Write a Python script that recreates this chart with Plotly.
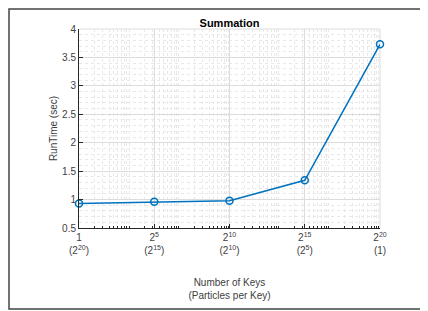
import plotly.graph_objects as go
import math

x_exp = [0, 5, 10, 15, 20]
runtime = [0.93, 0.96, 0.98, 1.34, 3.73]
tick_labels = ["1<br>(2<sup>20</sup>)", "2<sup>5</sup><br>(2<sup>15</sup>)",
               "2<sup>10</sup><br>(2<sup>10</sup>)", "2<sup>15</sup><br>(2<sup>5</sup>)",
               "2<sup>20</sup><br>(1)"]
y_ticks = [0.5, 1, 1.5, 2, 2.5, 3, 3.5, 4]
y_tick_labels = ["0.5", "1", "1.5", "2", "2.5", "3", "3.5", "4"]

xs = [2 ** e for e in x_exp]

L, T, W, H = 71, 21, 301, 199

fig = go.Figure()
fig.add_trace(go.Scatter(
    x=xs, y=runtime, mode="lines+markers",
    line=dict(color="#0072BD", width=1.5),
    marker=dict(symbol="circle-open", size=7, color="#0072BD", line=dict(width=1.5)),
    cliponaxis=False,
))

fnt = dict(family="Liberation Sans, Arial", size=10, color="#404040")
fig.update_layout(
    width=428, height=311,
    margin=dict(l=L, r=428 - L - W, t=T, b=311 - T - H),
    paper_bgcolor="white", plot_bgcolor="white",
    showlegend=False,
    font=fnt,
    title=dict(text="<b>Summation</b>", x=0.5, xanchor="center", xref="paper",
               y=1, yref="paper", yanchor="bottom", pad=dict(b=2),
               font=dict(family="Liberation Sans, Arial", size=11, color="black")),
)
fig.update_xaxes(
    type="log", range=[0, 20 * math.log10(2)], automargin=False,
    tickvals=xs, ticktext=tick_labels,
    showgrid=True, gridcolor="#dcdcdc", gridwidth=1,
    ticks="inside", ticklen=4, tickcolor="#262626",
    showline=True, linecolor="#262626", linewidth=1, mirror=False,
    zeroline=False,
    minor=dict(dtick="D1", showgrid=True, gridcolor="#e8e8e8", griddash="dot",
               ticks="inside", ticklen=2, tickcolor="#262626"),
    title=dict(text="Number of Keys<br>(Particles per Key)", standoff=23,
               font=dict(family="Liberation Sans, Arial", size=10, color="#404040")),
    tickfont=fnt,
)
fig.update_yaxes(
    range=[0.5, 4], tickvals=y_ticks, ticktext=y_tick_labels, automargin=False,
    showgrid=True, gridcolor="#dcdcdc", gridwidth=1,
    ticks="inside", ticklen=4, tickcolor="#262626",
    showline=True, linecolor="#262626", linewidth=1,
    zeroline=False,
    minor=dict(dtick=0.1, showgrid=True, gridcolor="#e8e8e8", griddash="dot"),
    title=dict(text="RunTime (sec)", standoff=2,
               font=dict(family="Liberation Sans, Arial", size=10, color="#404040")),
    tickfont=fnt,
)
# light top/right box lines
fig.add_shape(type="line", xref="paper", yref="paper", x0=0, x1=1, y0=1, y1=1,
              line=dict(color="#dcdcdc", width=1), layer="below")
fig.add_shape(type="line", xref="paper", yref="paper", x0=1, x1=1, y0=0, y1=1,
              line=dict(color="#dcdcdc", width=1), layer="below")
# figure border (in figure pixels, converted to paper coords)
bx0, bx1, by0, by1 = 1, 418, 1, 301
fig.add_shape(type="rect", xref="paper", yref="paper",
              x0=(bx0 - L) / W, x1=(bx1 - L) / W,
              y0=1 - (by1 - T) / H, y1=1 - (by0 - T) / H,
              line=dict(color="#444444", width=1.5), fillcolor="rgba(0,0,0,0)")

fig.write_html("out.html")
